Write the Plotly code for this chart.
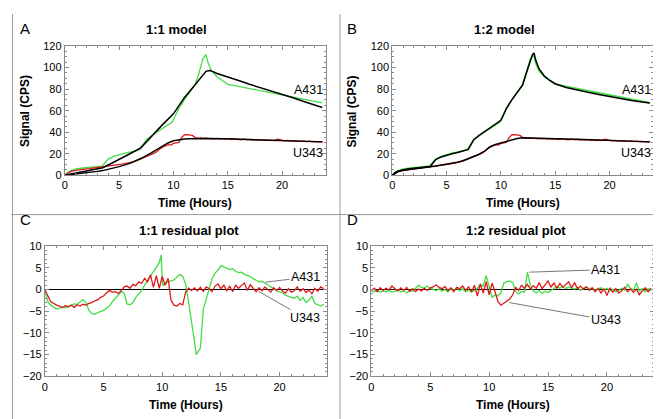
import plotly.graph_objects as go

# ---------------- data ----------------
# Observed signal, A431 (green) -- shared by panels A and B
t_obs_a431 = [0,0.25,0.5,0.75,1,1.5,2,2.5,3,3.4,3.6,3.8,4,4.5,5,5.5,6,6.5,6.9,7.1,7.3,7.5,8,8.5,9,9.5,9.9,10.05,10.5,11,11.5,12,12.3,12.5,12.7,13.0,13.2,13.5,14,14.5,15,15.5,16,16.5,17,17.5,18,18.5,19,19.5,20,20.5,21,21.5,22,22.5,23,23.3,23.7]
obs_a431 = [0,2.5,4,5,5.8,6.5,7,7.5,8,8.5,10.5,13,15,17.5,19.2,20.3,21.5,22.5,24,27,30.5,33,37,40.5,44,47,49.5,53,62,70,77,84,93,100,108,112,104,97,91.5,88,84.5,83.5,82.5,81.5,80.5,79.5,78.5,77.5,76.5,75.5,74.5,73.5,72.5,71.5,70.5,69.5,68.5,68,67.2]

# Observed signal, U343 (red)
t_obs_u343 = [i * 0.25 for i in range(96)]
obs_u343 = [0,2,3.2,4,4.5,5,5.3,5.6,6,6.2,6.5,6.8,7,7.3,7.8,8.3,8.8,9,9.4,9.7,10,10.3,10.8,11.2,11.6,12.4,13.2,14.2,15,16,17,18,19.5,20.5,22,24.5,26,27.5,28.5,28,29.5,30,30.5,35,37.5,37.8,37.5,37,35,34.5,34.8,34.2,34.5,34,34.3,33.8,34.2,33.6,34,33.5,33.9,33.2,33.7,33.4,33.6,32.9,33.5,32.8,33.3,32.7,33.1,32.6,33,32.4,32.8,32.3,32.6,32.2,33.2,33.4,32.5,31.9,32.3,31.8,32.2,31.6,32,31.5,31.8,31.3,31.7,31.2,31.5,31,31.3,30.9]

# 1:1 model fits
t_fit11_a431 = [0,0.5,1,1.5,2,2.5,3,3.5,4,5,6,7,7.5,8,9,10,10.5,11,11.5,12,12.5,13,13.3,13.6,14,15,16,17,18,19,20,21,22,23,23.7]
fit11_a431 = [0,1,2,2.8,3.6,4.6,5.6,7,9.5,14.5,20,25.5,31,36,47,57,65,72,78,84,91,96.5,97.3,96.5,94.5,91.5,88,84.5,81.5,78,75,72,68.5,65.5,63]
t_fit11_u343 = [0,1,2,3,3.5,4,5,6,7,8,9,9.5,10,10.5,11,11.5,12,13,15,17,20,23.7]
fit11_u343 = [0,1,2.3,3.6,4.3,5.3,8,11,15.5,21,27.5,30,32,33,33.7,34,34.2,34.2,33.8,33.3,32.3,31]

# 1:2 model fits
t_fit12_a431 = [0,0.25,0.5,1,1.5,2,2.5,3,3.5,3.6,3.8,4,4.5,5,5.5,6,6.5,7,7.1,7.3,7.5,8,8.5,9,9.5,10,10.1,10.5,11,11.5,12,12.3,12.6,12.9,13.05,13.2,13.5,14,14.5,15,16,17,18,19,20,21,22,23,23.7]
fit12_a431 = [0,2.5,3.8,5.3,6.1,6.6,7.1,7.6,8.2,9.5,12.5,14.5,17,18.8,20,21.2,22.5,24,26,30,33,37,40.5,44,47.5,51,53,62,70,77,84,94,104,112,113.5,107,99,92,88,85,81.5,79,77,75,73,71,69.5,68,67]
t_fit12_u343 = [0,0.25,0.5,1,1.5,2,3,4,5,6,6.5,7,7.5,8,8.5,9,9.5,10,10.5,11,11.5,12,13,15,17,20,23.7]
fit12_u343 = [0,2,3.2,4.7,5.5,6.2,7.2,8.5,10,12,13.5,15.5,17.5,19.5,22.5,26.5,28.5,30,31.5,33,34.2,34.8,34.7,34,33.4,32.5,31]

# Residuals, 1:1 model
t_res11_a431 = [0,0.25,0.5,0.75,1,1.25,1.5,1.75,2,2.25,2.5,2.75,3,3.25,3.5,3.75,4,4.25,4.5,4.75,5,5.25,5.5,5.75,6,6.25,6.5,6.75,7,7.25,7.5,7.75,8,8.25,8.5,8.75,9,9.25,9.5,9.75,9.9,10.05,10.25,10.5,10.75,11,11.25,11.5,11.75,12,12.25,12.5,12.75,12.9,13.1,13.25,13.5,13.75,14,14.25,14.5,14.75,15,15.25,15.5,15.75,16,16.25,16.5,16.75,17,17.25,17.5,17.75,18,18.25,18.5,18.75,19,19.25,19.5,19.75,20,20.25,20.5,20.75,21,21.25,21.5,21.75,22,22.25,22.5,22.75,23,23.25,23.5,23.75]
res11_a431 = [0,-2.8,-3.6,-4.0,-4.5,-4.3,-4.0,-4.2,-3.9,-3.6,-3.3,-3.4,-2.8,-2.3,-3.0,-4.8,-5.5,-5.7,-5.3,-5.0,-4.8,-4.3,-3.8,-2.8,-2.0,-1.2,-0.5,-0.8,-3.3,-3.5,-3.0,-1.8,-1.0,-0.2,1.0,2.0,3.0,4.0,5.0,6.2,8.0,0.8,1.5,1.8,2.0,2.2,2.8,3.5,3.0,1.2,-3.0,-7.0,-12.0,-15.0,-14.0,-13.5,-4.5,-2.0,0.5,2.5,3.8,4.5,5.5,5.2,5.0,4.6,4.8,4.2,3.9,4.0,3.5,3.3,3.0,2.5,2.2,1.8,1.9,1.5,1.2,0.8,0.2,-0.3,-0.5,-0.8,-1.3,-1.6,-1.8,-2.0,-1.5,-2.5,-1.8,-3.0,-2.5,-1.5,-3.2,-3.5,-3.8,-3.4]
t_res11_u343 = [i * 0.25 for i in range(96)]
res11_u343 = [0,-1.5,-2.8,-3.2,-3.6,-3.8,-4.2,-3.7,-4.0,-3.6,-4.1,-3.5,-3.8,-3.4,-3.6,-3.2,-3.0,-2.6,-2.4,-1.8,-1.5,-0.8,-0.2,-0.6,-0.5,-0.9,-0.3,0.6,0.8,0.3,1.2,0.9,1.8,1.4,2.6,1.8,3.4,0.5,3.2,0.3,3.0,1.0,2.6,-2.5,-3.6,-3.8,-3.2,-3.5,-0.5,0.3,-0.2,0.4,-0.3,0.5,-0.4,0.6,0.2,-0.5,0.8,1.3,0.2,1.0,-0.3,0.8,-0.5,1.0,0.3,0.9,1.5,-0.2,1.1,0.3,-0.5,0.4,-0.3,0.6,0.1,-0.6,0.4,-0.2,0.5,-0.4,-0.8,0.2,-0.6,-0.3,0.6,-0.4,0.2,-0.7,-0.1,-1.0,0.3,-0.4,0.6,0.2]

# Residuals, 1:2 model
t_res12 = [i * 0.25 for i in range(96)]
res12_a431 = [-0.3,-0.5,-0.2,-0.6,-0.3,-0.5,-0.2,-0.6,-0.4,-0.1,-0.5,-0.3,-0.8,-0.2,-0.4,0.2,1.0,0.5,0.3,0.8,0.2,0.1,-0.3,0.2,-0.4,0,-0.6,0.2,-0.2,0.4,-0.3,0.2,-0.5,-0.1,-0.6,-0.2,0.3,1.2,0.8,3.2,0.5,-1.8,-1.2,-1.5,-0.8,1.5,1.8,2.0,1.6,-0.5,-1.0,-0.4,-0.6,4.0,1.0,-0.3,-0.8,-0.3,-0.9,-0.4,-0.7,-0.2,0.3,0.7,0.3,0.8,0.2,0.6,0.3,0.1,0.5,-0.2,0.3,0.6,0.2,0.3,-0.2,0.2,0.4,-0.1,0.3,-0.3,0.1,-0.5,-0.2,0.3,-0.1,1.2,0.2,-0.2,1.5,-0.3,0.2,-0.5,0.2,-0.3]
res12_u343 = [-0.2,0.3,-0.5,0.4,-0.2,0.3,-0.1,0.8,0.2,-0.3,0.4,-0.2,0.5,-0.4,0.2,-0.5,0.1,-0.3,0.3,-0.2,0.4,0.6,1.1,0.5,0.2,0.7,-0.3,0.4,-0.5,0.5,0.2,0.8,-0.2,0.6,-0.5,1.0,-1.5,1.3,-0.8,1.8,-1.2,1.5,-0.5,-2.8,-3.6,-3.2,-2.6,-2.2,-1.2,0.5,-0.2,1.0,0.3,1.2,0.1,0.9,0.3,1.6,0.2,1.1,2.0,0.6,1.5,0.3,1.4,0.5,1.2,1.8,0.4,1.6,0.2,0.8,0.1,0.6,-0.2,0.4,-0.5,0.3,-0.8,0.2,-1.4,0.4,-0.6,0.2,-0.8,-0.3,0.5,-0.5,0.2,-0.7,0.1,-1.2,-0.3,0.4,-0.5,0.3]

x_ticks = [0, 5, 10, 15, 20]
signal_ticks = [0, 20, 40, 60, 80, 100, 120]
resid_ticks = [-20, -15, -10, -5, 0, 5, 10]

# ---------------- styling ----------------
W, H = 661, 419
FONT = "Liberation Sans, Arial, Helvetica, sans-serif"
GREEN = "#44dd44"
RED = "#dd1a1a"
FRAME = "#8a8a8a"

def px(x0, x1):
    return [x0 / W, x1 / W]

def py(y_top, y_bot):
    return [1 - y_bot / H, 1 - y_top / H]

fig = go.Figure()

def line(x, y, color, width, xa, ya):
    fig.add_trace(go.Scatter(x=x, y=y, mode="lines", line=dict(color=color, width=width),
                             xaxis=xa, yaxis=ya, showlegend=False, hoverinfo="skip"))

# Panel A
line(t_obs_a431, obs_a431, GREEN, 1.3, "x", "y")
line(t_obs_u343, obs_u343, RED, 1.3, "x", "y")
line(t_fit11_a431, fit11_a431, "black", 1.5, "x", "y")
line(t_fit11_u343, fit11_u343, "black", 1.5, "x", "y")
# Panel B
line(t_obs_a431, obs_a431, GREEN, 1.6, "x2", "y2")
line(t_obs_u343, obs_u343, RED, 1.3, "x2", "y2")
line(t_fit12_a431, fit12_a431, "black", 1.5, "x2", "y2")
line(t_fit12_u343, fit12_u343, "black", 1.5, "x2", "y2")
# Panel C
line(t_res11_a431, res11_a431, GREEN, 1.3, "x3", "y3")
line(t_res11_u343, res11_u343, RED, 1.3, "x3", "y3")
# Panel D
line(t_res12, res12_a431, GREEN, 1.3, "x4", "y4")
line(t_res12, res12_u343, RED, 1.3, "x4", "y4")

def xaxis(domain, anchor):
    return dict(domain=domain, anchor=anchor, range=[0, 24], tickvals=x_ticks,
                showline=True, mirror="allticks", linecolor=FRAME, linewidth=1,
                ticks="inside", ticklen=4, tickcolor=FRAME,
                minor=dict(ticks="inside", ticklen=2, dtick=1, tickcolor=FRAME),
                showgrid=False, zeroline=False,
                tickfont=dict(family=FONT, size=11, color="black"), fixedrange=True)

def yaxis(domain, anchor, rng, ticks, minor_dt, zero):
    return dict(domain=domain, anchor=anchor, range=rng, tickvals=ticks,
                showline=True, mirror="allticks", linecolor=FRAME, linewidth=1,
                ticks="inside", ticklen=4, tickcolor=FRAME,
                minor=dict(ticks="inside", ticklen=2, dtick=minor_dt, tickcolor=FRAME),
                showgrid=False, zeroline=zero, zerolinecolor="black", zerolinewidth=1,
                tickfont=dict(family=FONT, size=11, color="black"), fixedrange=True)

top = py(33, 166)
bot = py(239, 373)

fig.update_layout(
    width=W, height=H, margin=dict(l=0, r=0, t=0, b=0),
    paper_bgcolor="white", plot_bgcolor="white",
    xaxis=xaxis(px(54, 316), "y"),
    yaxis=yaxis(top, "x", [0, 120], signal_ticks, 5, False),
    xaxis2=xaxis(px(383, 645), "y2"),
    yaxis2=yaxis(top, "x2", [0, 120], signal_ticks, 5, False),
    xaxis3=xaxis(px(34, 317), "y3"),
    yaxis3=yaxis(bot, "x3", [-20, 10], resid_ticks, 1, True),
    xaxis4=xaxis(px(362, 646), "y4"),
    yaxis4=yaxis(bot, "x4", [-20, 10], resid_ticks, 1, True),
)

ann = []
def text(x, y, s, size=12, bold=False, angle=0, xanchor="center"):
    ann.append(dict(x=x / W, y=1 - y / H, xref="paper", yref="paper", text=(f"<b>{s}</b>" if bold else s),
                    showarrow=False, font=dict(family=FONT, size=size, color="black"),
                    textangle=angle, xanchor=xanchor, yanchor="middle"))

# Panel letters
text(7, 15, "A", 15, xanchor="left")
text(336, 15, "B", 15, xanchor="left")
text(7, 212, "C", 15, xanchor="left")
text(336, 212, "D", 15, xanchor="left")
# Titles
text(166, 16, "1:1 model", 13, True)
text(496, 16, "1:2 model", 13, True)
text(179, 223, "1:1 residual plot", 13, True)
text(507, 223, "1:2 residual plot", 13, True)
# Axis titles
text(185, 195, "Time (Hours)", 12, True)
text(514, 195, "Time (Hours)", 12, True)
text(176, 403, "Time (Hours)", 12, True)
text(504, 403, "Time (Hours)", 12, True)
text(14, 100, "Signal (CPS)", 12, True, angle=-90)
text(343, 100, "Signal (CPS)", 12, True, angle=-90)

# Series labels in A and B
for xa, ya in (("x", "y"), ("x2", "y2")):
    ann.append(dict(x=23.95, y=79.5, xref=xa, yref=ya, text="A431", showarrow=False,
                    xanchor="right", font=dict(family=FONT, size=12.5, color="black")))
    ann.append(dict(x=23.95, y=20.5, xref=xa, yref=ya, text="U343", showarrow=False,
                    xanchor="right", font=dict(family=FONT, size=12.5, color="black")))

# Labels with leader lines in C and D
def leader(xa, ya, px_, py_, tx, ty, s):
    ann.append(dict(x=px_, y=py_, xref=xa, yref=ya, ax=tx, ay=ty, axref=xa, ayref=ya,
                    text=s, showarrow=True, arrowhead=0, arrowwidth=0.8, arrowcolor="#555555",
                    standoff=0, font=dict(family=FONT, size=12.5, color="black")))

leader("x3", "y3", 18.8, 1.7, 22.2, 2.8, "A431")
leader("x3", "y3", 18.2, -0.4, 22.2, -6.6, "U343")
leader("x4", "y4", 13.4, 4.0, 19.9, 4.6, "A431")
leader("x4", "y4", 11.7, -3.0, 19.9, -7.0, "U343")

fig.update_layout(annotations=ann)

# Panel dividers
fig.update_layout(shapes=[
    dict(type="line", xref="paper", yref="paper", x0=330.5 / W, x1=330.5 / W, y0=0, y1=1,
         line=dict(color="#9a9a9a", width=1)),
    dict(type="line", xref="paper", yref="paper", x0=0, x1=1, y0=1 - 206.5 / H, y1=1 - 206.5 / H,
         line=dict(color="#9a9a9a", width=1)),
    dict(type="line", xref="paper", yref="paper", x0=1.5 / W, x1=1.5 / W, y0=0, y1=1,
         line=dict(color="#9a9a9a", width=1)),
])

fig.write_html("out.html")
